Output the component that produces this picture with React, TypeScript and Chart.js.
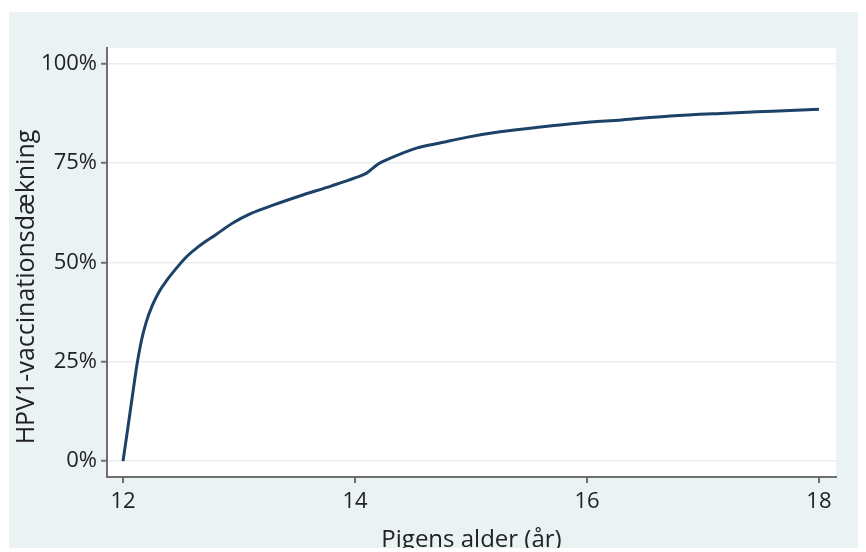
import React, { useEffect, useRef } from "react";
import { Chart, registerables } from "chart.js";

Chart.register(...registerables);

const ages = [
  12.0, 12.04, 12.08, 12.12, 12.16, 12.2, 12.25, 12.31, 12.38, 12.45, 12.55, 12.65, 12.8, 12.95,
  13.1, 13.3, 13.53, 13.8, 14.0, 14.1, 14.2, 14.3, 14.53, 14.75, 14.96, 15.25, 15.6,
  15.94, 16.3, 16.72, 17.2, 17.6, 18.0,
];
const coverage = [
  0, 8, 16.2, 24.2, 30.5, 35, 39, 42.6, 45.6, 48.2, 51.5, 54, 57, 60,
  62.3, 64.5, 66.8, 69.3, 71.3, 72.5, 74.8, 76.2, 78.8, 80.2, 81.5, 82.9, 84.1,
  85.1, 85.9, 86.9, 87.6, 88.1, 88.6,
];
const xTicks = [12, 14, 16, 18];
const yTicks = [0, 25, 50, 75, 100];
const xTitle = "Pigens alder (år)";
const yTitle = "HPV1-vaccinationsdækning";

const FONT = "'Open Sans', sans-serif";
const W = 857;
const H = 540;

export default function App() {
  const ref = useRef<HTMLCanvasElement | null>(null);

  useEffect(() => {
    if (!ref.current) return;
    const bgPlugin = {
      id: "plotBg",
      beforeDraw(chart: any) {
        const { ctx, chartArea } = chart;
        ctx.save();
        ctx.fillStyle = "#eaf2f3";
        ctx.fillRect(0, 0, chart.width, chart.height);
        ctx.fillStyle = "#ffffff";
        ctx.fillRect(chartArea.left, chartArea.top, chartArea.right - chartArea.left, chartArea.bottom - chartArea.top);
        ctx.restore();
      },
      afterDraw(chart: any) {
        const { ctx } = chart;
        ctx.save();
        ctx.translate(18, 275);
        ctx.rotate(-Math.PI / 2);
        ctx.font = `25px ${FONT}`;
        ctx.fillStyle = "#222222";
        ctx.textAlign = "center";
        ctx.textBaseline = "middle";
        ctx.fillText(yTitle, 0, 0);
        ctx.restore();
      },
    };

    const chart = new Chart(ref.current, {
      type: "line",
      data: {
        datasets: [
          {
            data: ages.map((a, i) => ({ x: a, y: coverage[i] })),
            borderColor: "#1c4268",
            borderWidth: 3,
            pointRadius: 0,
            cubicInterpolationMode: "monotone",
            fill: false,
          },
        ],
      },
      options: {
        responsive: false,
        animation: false,
        layout: { padding: { top: 36, right: 30, left: 0, bottom: 0 } },
        plugins: {
          legend: { display: false },
          tooltip: { enabled: false },
        },
        scales: {
          x: {
            type: "linear",
            min: 11.862,
            max: 18.147,
            afterBuildTicks(scale: any) {
              scale.ticks = xTicks.map((v) => ({ value: v }));
            },
            afterFit(scale: any) {
              scale.height = 75;
            },
            border: { color: "#707070", width: 2 },
            grid: { drawOnChartArea: false, drawTicks: true, tickLength: 6, tickColor: "#707070", lineWidth: 2 },
            ticks: {
              padding: 6,
              color: "#222222",
              font: { family: FONT, size: 22 },
              maxRotation: 0,
              callback: (v: any) => String(v),
            },
            title: {
              display: true,
              text: xTitle,
              color: "#222222",
              font: { family: FONT, size: 24, lineHeight: 1 },
              padding: { top: 0, bottom: 0 },
            },
          },
          y: {
            type: "linear",
            min: -4,
            max: 104,
            afterBuildTicks(scale: any) {
              scale.ticks = yTicks.map((v) => ({ value: v }));
            },
            afterFit(scale: any) {
              scale.width = 98;
            },
            border: { color: "#707070", width: 2 },
            grid: { color: "#e9eff0", lineWidth: 1.5, tickLength: 6, tickColor: "#707070", tickWidth: 2 },
            ticks: {
              padding: 4,
              color: "#222222",
              font: { family: FONT, size: 22 },
              callback: (v: any) => `${v}%`,
            },
          },
        },
      },
      plugins: [bgPlugin],
    } as any);
    return () => chart.destroy();
  }, []);

  return (
    <div style={{ position: "relative", top: 4, left: 1, width: W, height: H }}>
      <canvas ref={ref} width={W} height={H} style={{ display: "block" }} />
    </div>
  );
}
